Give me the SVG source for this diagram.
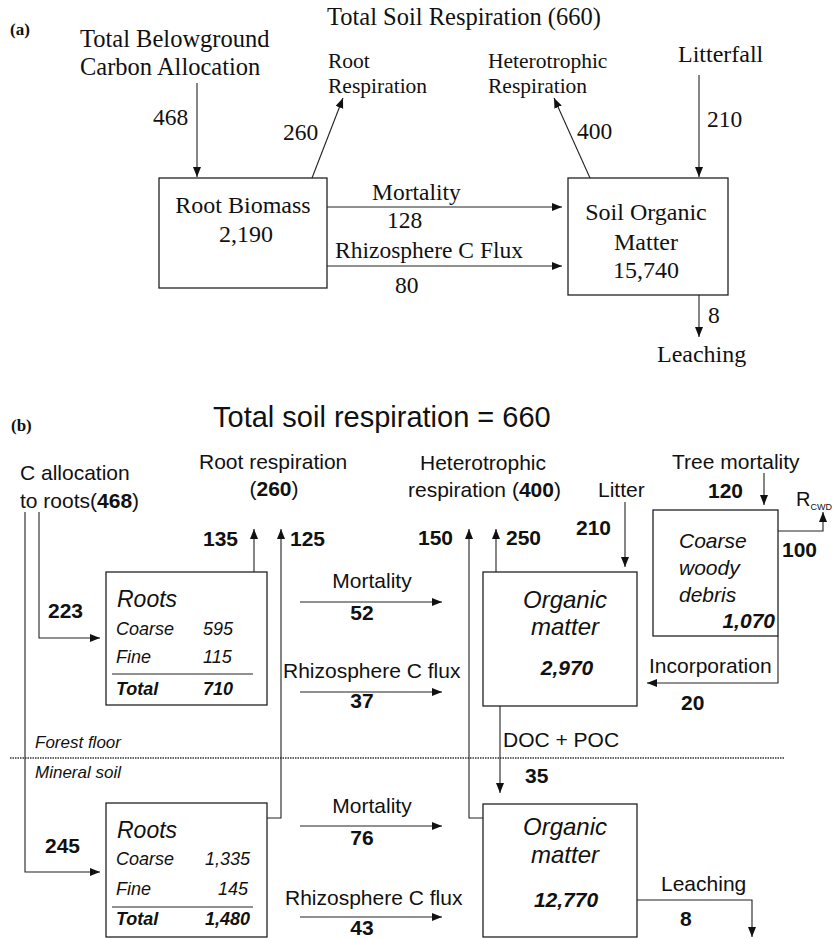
<svg xmlns="http://www.w3.org/2000/svg" width="836" height="939" viewBox="0 0 836 939">
<style>
.serif{font-family:"Liberation Serif","Times New Roman",serif;fill:#111}
.sans{font-family:"Liberation Sans",Arial,sans-serif;fill:#111}
.box{fill:none;stroke:#222;stroke-width:1.3}
.ln{fill:none;stroke:#222;stroke-width:1.1}
.arr{fill:none;stroke:#222;stroke-width:1.1;marker-end:url(#ah)}
.b{font-weight:bold}
.i{font-style:italic}
.bi{font-weight:bold;font-style:italic}
</style>
<defs>
<marker id="ah" markerUnits="userSpaceOnUse" markerWidth="11" markerHeight="9" refX="10" refY="4" orient="auto">
<path d="M0,0 L10,4 L0,8 z" fill="#111"/>
</marker>
</defs>
<rect width="836" height="939" fill="#fff"/>

<!-- ===== Part (a) ===== -->
<g id="a-labels" class="serif">
<text x="10" y="35" font-size="17" class="b">(a)</text>
<text x="327" y="25" font-size="24.5">Total Soil Respiration (660)</text>
<text x="80" y="47" font-size="24.5">Total Belowground</text>
<text x="80" y="75" font-size="24.5">Carbon Allocation</text>
<text x="328" y="68" font-size="21.5">Root</text>
<text x="328" y="93" font-size="21.5">Respiration</text>
<text x="488" y="68" font-size="21.5">Heterotrophic</text>
<text x="488" y="93" font-size="21.5">Respiration</text>
<text x="678" y="62" font-size="24">Litterfall</text>
<text x="657" y="362" font-size="24">Leaching</text>
</g>
<g id="a-root-biomass">
<rect class="box" x="159" y="178" width="168" height="110"/>
<text class="serif" x="243" y="213" font-size="24" text-anchor="middle">Root Biomass</text>
<text class="serif" x="246" y="242" font-size="24" text-anchor="middle">2,190</text>
</g>
<g id="a-soil-organic-matter">
<rect class="box" x="568" y="178" width="160" height="117"/>
<text class="serif" x="646" y="220" font-size="24" text-anchor="middle">Soil Organic</text>
<text class="serif" x="646" y="250" font-size="24" text-anchor="middle">Matter</text>
<text class="serif" x="646" y="278" font-size="24" text-anchor="middle">15,740</text>
</g>
<g id="a-connectors">
<line class="arr" x1="197" y1="83" x2="197" y2="177"/>
<line class="arr" x1="312" y1="178" x2="343" y2="98"/>
<line class="arr" x1="590" y1="178" x2="554" y2="98"/>
<line class="arr" x1="699" y1="75" x2="699" y2="177"/>
<line class="arr" x1="327" y1="207" x2="562" y2="207"/>
<line class="arr" x1="327" y1="266" x2="562" y2="266"/>
<line class="arr" x1="699" y1="295" x2="699" y2="337"/>
</g>
<g id="a-connector-labels" class="serif" font-size="23.5">
<text x="153" y="125">468</text>
<text x="283" y="140">260</text>
<text x="577" y="139">400</text>
<text x="707" y="127">210</text>
<text x="372" y="200">Mortality</text>
<text x="387" y="228">128</text>
<text x="335" y="258">Rhizosphere C Flux</text>
<text x="395" y="293">80</text>
<text x="708" y="323">8</text>
</g>

<!-- ===== Part (b) ===== -->
<g id="b-labels" class="sans">
<text x="11" y="431" font-size="17" class="serif b">(b)</text>
<text x="213" y="427" font-size="29">Total soil respiration = 660</text>
<text x="20" y="480" font-size="21">C allocation</text>
<text x="20" y="508" font-size="21">to roots(<tspan class="b">468</tspan>)</text>
<text x="199" y="469" font-size="21">Root respiration</text>
<text x="274" y="496" font-size="21" text-anchor="middle">(<tspan class="b">260</tspan>)</text>
<text x="483" y="470" font-size="21" text-anchor="middle">Heterotrophic</text>
<text x="408" y="497" font-size="21">respiration (<tspan class="b">400</tspan>)</text>
<text x="598" y="497" font-size="21">Litter</text>
<text x="672" y="469" font-size="21">Tree mortality</text>
<text x="796" y="506" font-size="20">R<tspan font-size="9" dy="4">CWD</tspan></text>
<text x="35" y="748" font-size="17" class="i">Forest floor</text>
<text x="35" y="778" font-size="17" class="i">Mineral soil</text>
</g>

<g id="b-roots-upper" class="sans">
<rect class="box" x="106" y="572" width="161" height="133"/>
<text x="117" y="607" font-size="23" class="i">Roots</text>
<text x="116" y="635" font-size="18" class="i">Coarse</text>
<text x="203" y="635" font-size="18" class="i">595</text>
<text x="116" y="663" font-size="18" class="i">Fine</text>
<text x="203" y="663" font-size="18" class="i">115</text>
<line class="ln" x1="112" y1="674" x2="253" y2="674"/>
<text x="116" y="695" font-size="18" class="bi">Total</text>
<text x="203" y="695" font-size="18" class="bi">710</text>
</g>

<g id="b-roots-lower" class="sans">
<rect class="box" x="106" y="803" width="161" height="134"/>
<text x="117" y="838" font-size="23" class="i">Roots</text>
<text x="116" y="865" font-size="18" class="i">Coarse</text>
<text x="250" y="865" font-size="18" class="i" text-anchor="end">1,335</text>
<text x="116" y="895" font-size="18" class="i">Fine</text>
<text x="248" y="895" font-size="18" class="i" text-anchor="end">145</text>
<line class="ln" x1="112" y1="907" x2="253" y2="907"/>
<text x="116" y="925" font-size="18" class="bi">Total</text>
<text x="250" y="925" font-size="18" class="bi" text-anchor="end">1,480</text>
</g>

<g id="b-organic-upper" class="sans">
<rect class="box" x="483" y="572" width="154" height="134"/>
<text x="565" y="608" font-size="24" class="i" text-anchor="middle">Organic</text>
<text x="565" y="635" font-size="24" class="i" text-anchor="middle">matter</text>
<text x="567" y="675" font-size="21" class="bi" text-anchor="middle">2,970</text>
</g>

<g id="b-organic-lower" class="sans">
<rect class="box" x="483" y="804" width="154" height="133"/>
<text x="565" y="835" font-size="24" class="i" text-anchor="middle">Organic</text>
<text x="565" y="863" font-size="24" class="i" text-anchor="middle">matter</text>
<text x="566" y="907" font-size="21" class="bi" text-anchor="middle">12,770</text>
</g>

<g id="b-cwd" class="sans">
<rect class="box" x="653" y="510" width="125" height="126"/>
<text x="679" y="548" font-size="21" class="i">Coarse</text>
<text x="679" y="575" font-size="21" class="i">woody</text>
<text x="679" y="602" font-size="21" class="i">debris</text>
<text x="775" y="628" font-size="21" class="bi" text-anchor="end">1,070</text>
</g>

<g id="b-divider">
<line x1="10" y1="758" x2="785" y2="758" stroke="#333" stroke-width="1.3" stroke-dasharray="1.5,1"/>
</g>

<g id="b-connectors">
<polyline class="arr" points="25,512 25,872 100,872"/>
<polyline class="arr" points="39,512 39,638 100,638"/>
<line class="arr" x1="254" y1="572" x2="254" y2="529"/>
<polyline class="arr" points="267,818 281,818 281,529"/>
<polyline class="arr" points="483,818 469,818 469,529"/>
<line class="arr" x1="496" y1="572" x2="496" y2="529"/>
<line class="arr" x1="625" y1="502" x2="625" y2="567"/>
<line class="arr" x1="764" y1="473" x2="764" y2="505"/>
<polyline class="arr" points="778,531 823,531 823,512"/>
<polyline class="arr" points="778,636 778,683 647,683"/>
<line class="arr" x1="500" y1="706" x2="500" y2="793"/>
<polyline class="arr" points="637,900 752,900 752,937"/>
<line class="arr" x1="300" y1="602" x2="442" y2="602"/>
<line class="arr" x1="300" y1="692" x2="442" y2="692"/>
<line class="arr" x1="300" y1="826" x2="442" y2="826"/>
<line class="arr" x1="300" y1="917" x2="442" y2="917"/>
</g>

<g id="b-connector-labels" class="sans" font-size="21">
<text x="48" y="618" class="b">223</text>
<text x="45" y="853" class="b">245</text>
<text x="203" y="546" class="b">135</text>
<text x="290" y="546" class="b">125</text>
<text x="418" y="545" class="b">150</text>
<text x="506" y="545" class="b">250</text>
<text x="576" y="535" class="b">210</text>
<text x="708" y="498" class="b">120</text>
<text x="782" y="557" class="b">100</text>
<text x="372" y="588" text-anchor="middle">Mortality</text>
<text x="362" y="620" class="b" text-anchor="middle">52</text>
<text x="283" y="678">Rhizosphere C flux</text>
<text x="362" y="708" class="b" text-anchor="middle">37</text>
<text x="372" y="813" text-anchor="middle">Mortality</text>
<text x="362" y="845" class="b" text-anchor="middle">76</text>
<text x="285" y="905">Rhizosphere C flux</text>
<text x="362" y="935" class="b" text-anchor="middle">43</text>
<text x="649" y="673">Incorporation</text>
<text x="681" y="710" class="b">20</text>
<text x="503" y="747">DOC + POC</text>
<text x="525" y="783" class="b">35</text>
<text x="661" y="891">Leaching</text>
<text x="680" y="926" class="b">8</text>
</g>
</svg>
